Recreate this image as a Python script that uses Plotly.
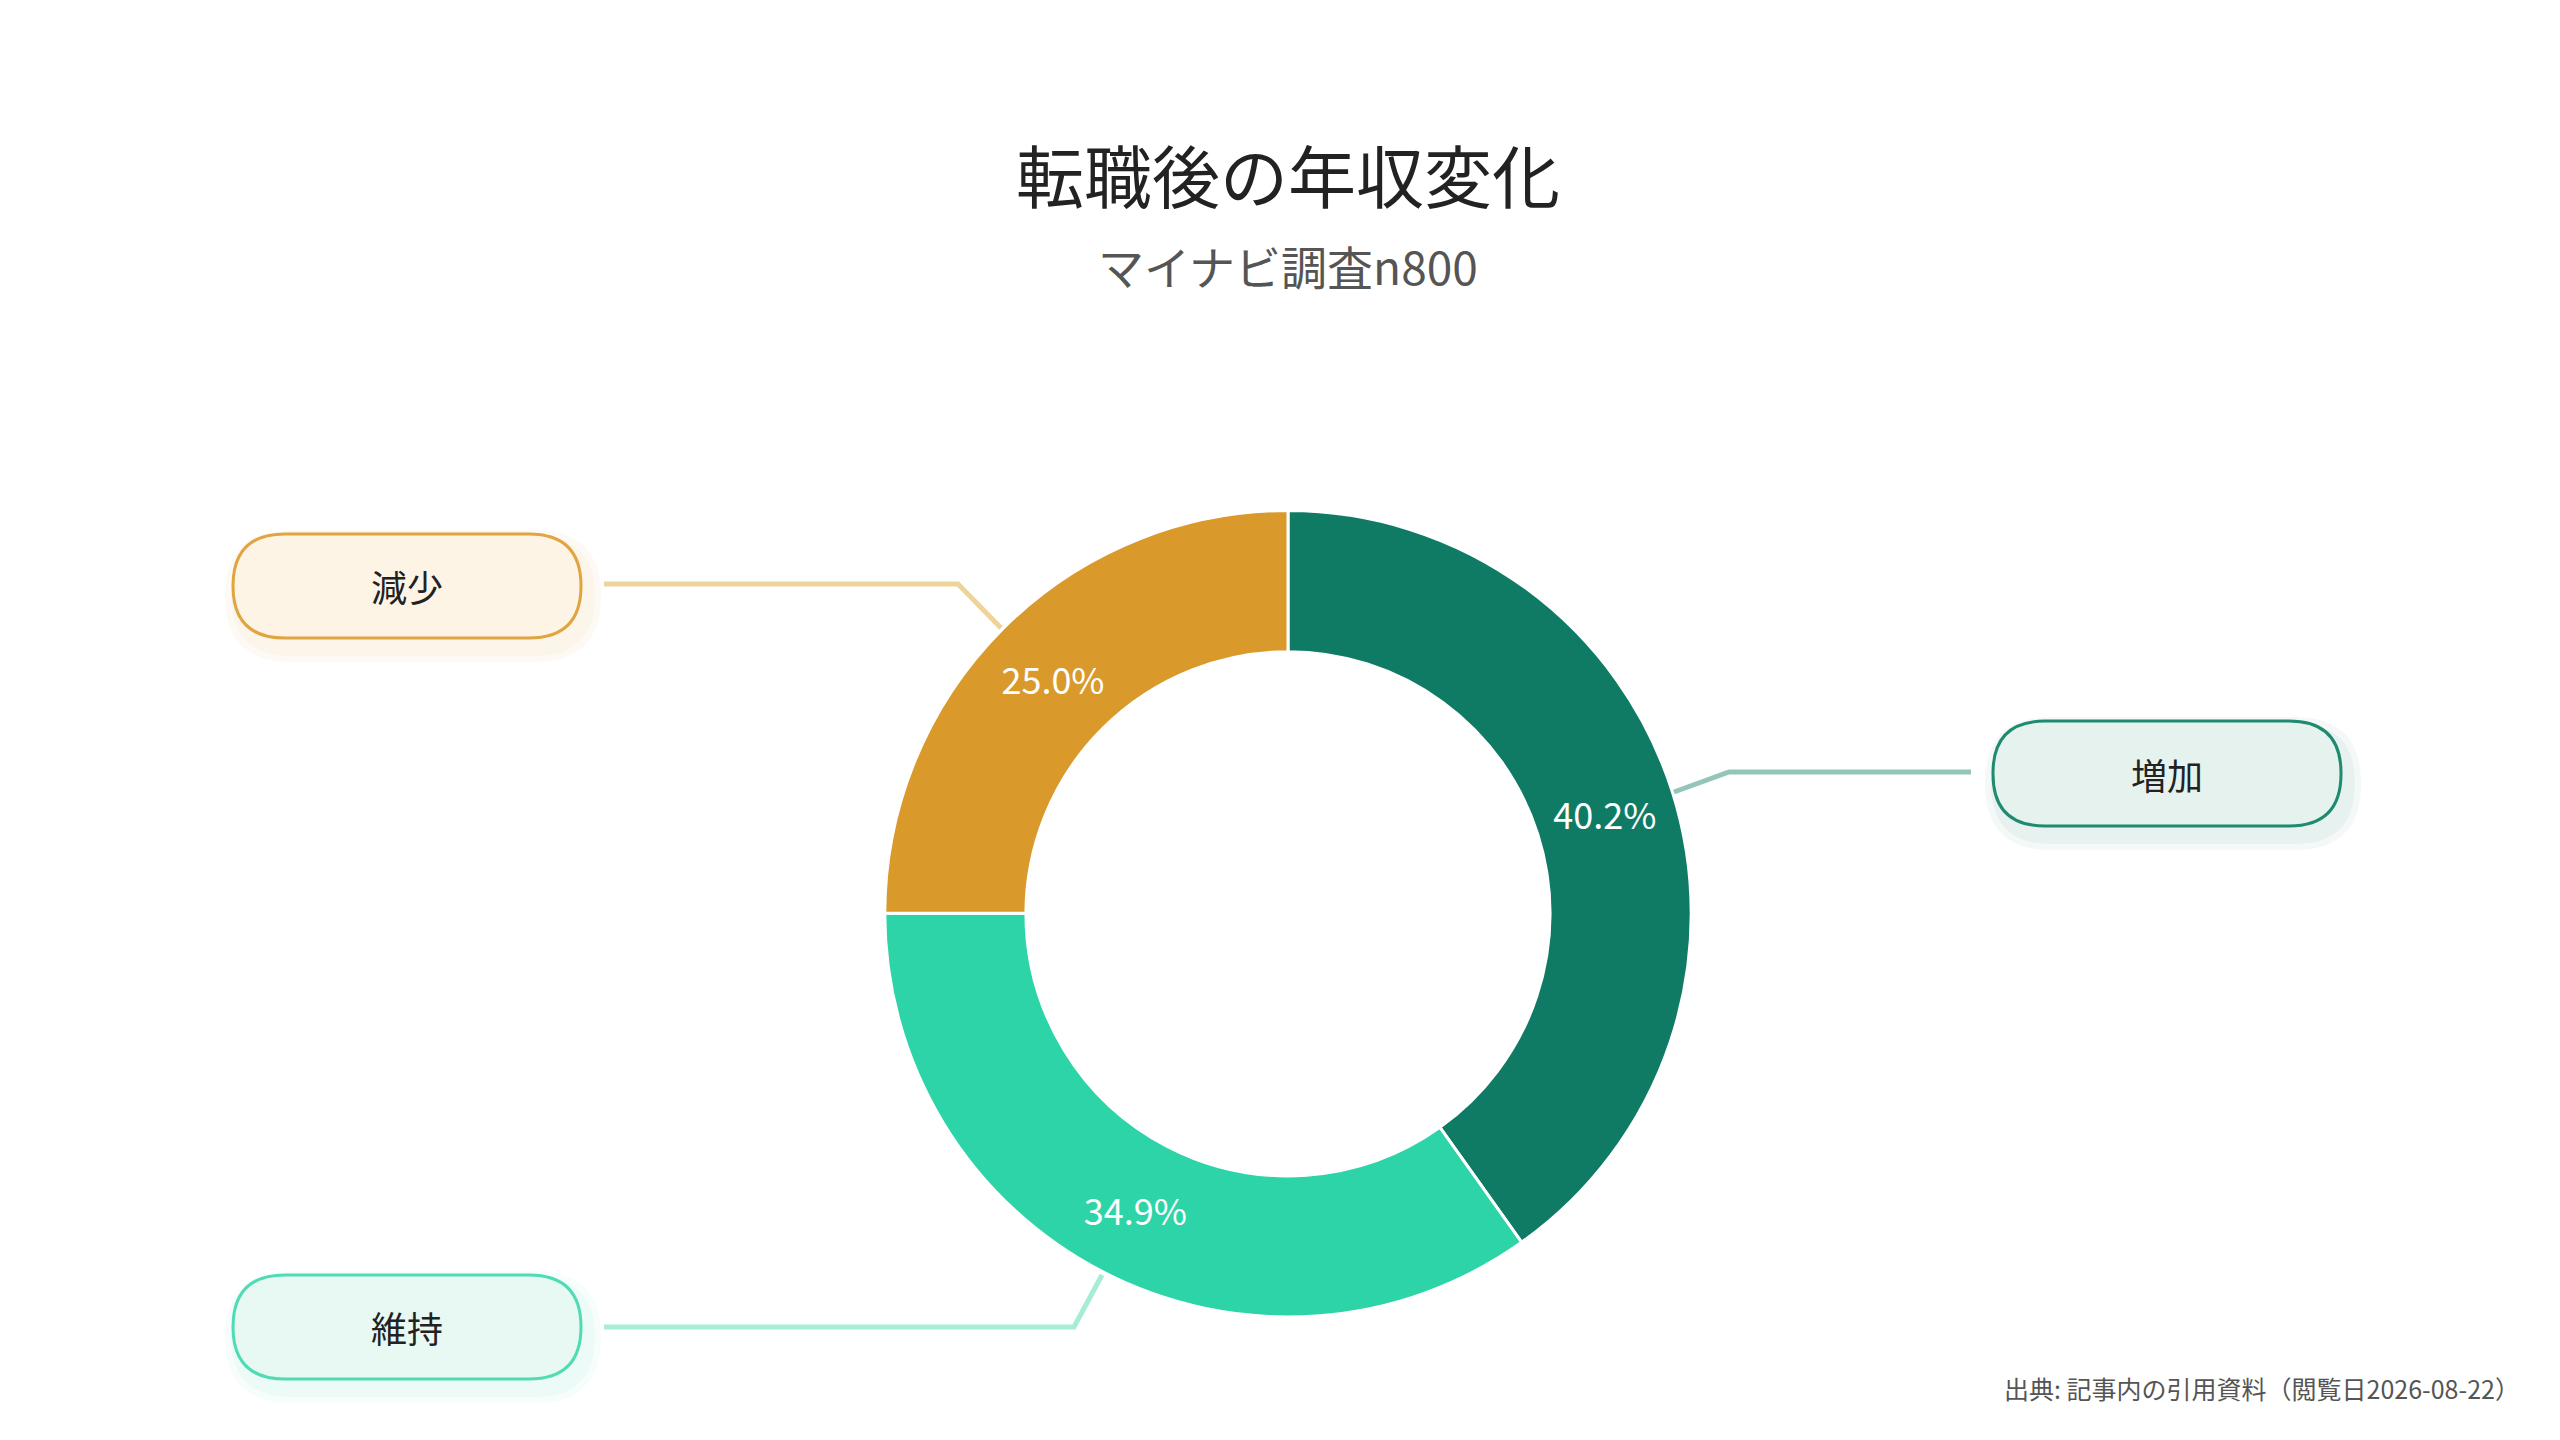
import plotly.graph_objects as go

labels = ["増加", "維持", "減少"]
values = [40.2, 34.9, 25.0]
colors = ["#0f7b65", "#2dd4a7", "#d9992b"]
box_border = {"増加": "#1f8a70", "維持": "#4fdcb5", "減少": "#e0a440"}
box_fill = {"増加": "#e6f2ee", "維持": "#e8f9f3", "減少": "#fdf4e6"}
line_col = {"増加": "#93c6b8", "維持": "#a6ecd6", "減少": "#efd49a"}
title = "転職後の年収変化"
subtitle = "マイナビ調査n800"
source = "出典: 記事内の引用資料（閲覧日2026-08-22）"

W, H = 2560, 1440
FONT = "Noto Sans CJK JP"

fig = go.Figure()
fig.add_trace(go.Pie(
    labels=labels, values=values, hole=0.65, sort=False, direction="clockwise",
    rotation=0, marker=dict(colors=colors, line=dict(color="white", width=3)),
    texttemplate="%{percent:.1%}", textposition="inside", insidetextorientation="horizontal",
    textfont=dict(color="white", size=36, family=FONT), showlegend=False,
    domain=dict(x=[0.2, 0.8], y=[0.091, 0.651]), hoverinfo="label+percent"))

def rrect(x0, y0, x1, y1, r):
    return (f"M{x0+r},{y0} L{x1-r},{y0} Q{x1},{y0} {x1},{y0+r} L{x1},{y1-r} "
            f"Q{x1},{y1} {x1-r},{y1} L{x0+r},{y1} Q{x0},{y1} {x0},{y1-r} "
            f"L{x0},{y0+r} Q{x0},{y0} {x0+r},{y0} Z")

boxes = {"減少": (225, 526, 573, 630), "維持": (225, 1267, 573, 1371), "増加": (1985, 713, 2333, 818)}
leaders = {"減少": [(596, 576), (950, 576), (993, 620)],
           "維持": [(596, 1319), (1066, 1319), (1094, 1267)],
           "増加": [(1963, 764), (1721, 764), (1666, 784)]}
shapes = []
annos = []
for lab in labels:
    x0, y0, x1, y1 = boxes[lab]
    for k, op in ((14, 0.05), (8, 0.06)):
        shapes.append(dict(type="path", path=rrect(x0 - k + 6, y0 - k + 10, x1 + k + 6, y1 + k + 10, 52 + k),
                           xref="x", yref="y", fillcolor=box_border[lab], opacity=op, line=dict(width=0), layer="below"))
    shapes.append(dict(type="path", path=rrect(x0, y0, x1, y1, 52), xref="x", yref="y",
                       fillcolor=box_fill[lab], line=dict(color=box_border[lab], width=3)))
    pts = leaders[lab]
    shapes.append(dict(type="path", path="M" + " L".join(f"{a},{b}" for a, b in pts), xref="x", yref="y",
                       line=dict(color=line_col[lab], width=5)))
    annos.append(dict(x=(x0 + x1) / 2, y=(y0 + y1) / 2, xref="x", yref="y", text=lab, showarrow=False,
                      font=dict(size=36, color="#222", family=FONT)))

annos += [
    dict(x=0.5, y=1 - 114 / H, xref="paper", yref="paper", text=title, showarrow=False,
         font=dict(size=68, color="#222", family=FONT)),
    dict(x=0.5, y=1 - 222 / H, xref="paper", yref="paper", text=subtitle, showarrow=False,
         font=dict(size=46, color="#555", family=FONT)),
    dict(x=2514 / W, y=1 - 1400 / H, xref="paper", yref="paper", text=source, showarrow=False,
         xanchor="right", font=dict(size=25, color="#555", family=FONT)),
]

fig.update_layout(
    width=W, height=H, margin=dict(l=0, r=0, t=0, b=0), paper_bgcolor="white", plot_bgcolor="white",
    xaxis=dict(range=[0, W], visible=False, fixedrange=True),
    yaxis=dict(range=[H, 0], visible=False, fixedrange=True),
    shapes=shapes, annotations=annos, font=dict(family=FONT))
fig.write_html("out.html")
